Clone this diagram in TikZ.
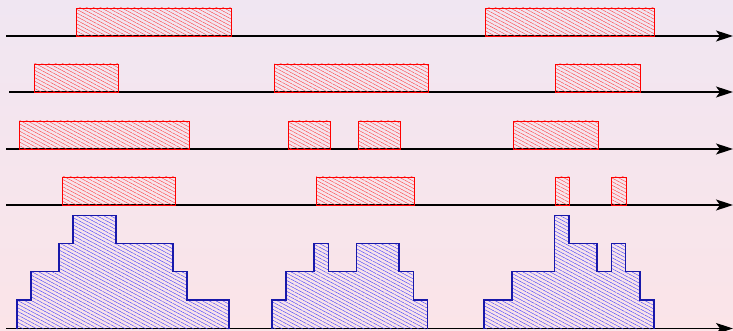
\documentclass[tikz,border=0pt]{standalone}
\usetikzlibrary{patterns.meta,arrows.meta}
\definecolor{bgtop}{RGB}{240,230,242}
\definecolor{bgbot}{RGB}{251,228,232}
\definecolor{histblue}{RGB}{24,24,170}
\tikzset{
  axisline/.style={line width=1.3pt,-{Stealth[length=17pt,width=11pt,inset=4pt]}},
  busy/.style={draw=red,line width=0.9pt,pattern={Lines[angle=-28,distance=3.2pt,line width=0.4pt]},pattern color=red!75},
  histfill/.style={pattern={Lines[angle=-28,distance=3.2pt,line width=0.4pt]},pattern color=blue!75},
  histline/.style={draw=histblue,line width=1.1pt,line join=miter}
}
\begin{document}
\begin{tikzpicture}[x=1pt,y=-1pt]
\useasboundingbox (0,0) rectangle (733,331);
\shade[top color=bgtop,bottom color=bgbot] (0,0) rectangle (733,331);
% axes
\coordinate (a1s) at (6,36);   \coordinate (a1e) at (733,36);
\coordinate (a2s) at (9,92); \coordinate (a2e) at (733,92);
\coordinate (a3s) at (6,149);  \coordinate (a3e) at (733,149);
\coordinate (a4s) at (6,205);  \coordinate (a4e) at (733,205);
\coordinate (a5s) at (6,328.5);\coordinate (a5e) at (733,328.5);
\begin{scope}
\clip (0,0) rectangle (733,331);
\draw[axisline] (a1s) -- (a1e);
\draw[axisline] (a2s) -- (a2e);
\draw[axisline] (a3s) -- (a3e);
\draw[axisline] (a4s) -- (a4e);
\draw[axisline] (a5s) -- (a5e);
\end{scope}
% row 1
\draw[busy] (76,8) rectangle (231,36);
\draw[busy] (485,8) rectangle (654,36);
% row 2
\draw[busy] (34,64) rectangle (118,92);
\draw[busy] (274,64) rectangle (428,92);
\draw[busy] (555,64) rectangle (640,92);
% row 3
\draw[busy] (19.5,121) rectangle (189,149);
\draw[busy] (288,121) rectangle (330,149);
\draw[busy] (358,121) rectangle (400,149);
\draw[busy] (513,121) rectangle (598,149);
% row 4
\draw[busy] (62,177) rectangle (175,205);
\draw[busy] (316,177) rectangle (414,205);
\draw[busy] (555.5,177) rectangle (569.5,205);
\draw[busy] (611.5,177) rectangle (626,205);
% histogram
\def\hA{(17,329) -- (17,300) -- (31,300) -- (31,271.7) -- (59,271.7) -- (59,243.3) -- (73,243.3) -- (73,215.3) -- (116,215.3) -- (116,243.3) -- (173,243.3) -- (173,271.7) -- (187,271.7) -- (187,300) -- (229,300) -- (229,329)}
\def\hB{(272,329) -- (272,300) -- (286,300) -- (286,271.7) -- (314,271.7) -- (314,243.3) -- (328.7,243.3) -- (328.7,271.7) -- (356.7,271.7) -- (356.7,243.3) -- (399,243.3) -- (399,271.7) -- (413.7,271.7) -- (413.7,300) -- (427.7,300) -- (427.7,329)}
\def\hC{(484,329) -- (484,300) -- (512,300) -- (512,271.7) -- (554.7,271.7) -- (554.7,215.3) -- (569,215.3) -- (569,243.3) -- (597,243.3) -- (597,271.7) -- (611.7,271.7) -- (611.7,243.3) -- (625.7,243.3) -- (625.7,271.7) -- (640,271.7) -- (640,300) -- (654,300) -- (654,329)}
\fill[histfill] \hA -- cycle;
\fill[histfill] \hB -- cycle;
\fill[histfill] \hC -- cycle;
\draw[histline] \hA;
\draw[histline] \hB;
\draw[histline] \hC;
\end{tikzpicture}
\end{document}
